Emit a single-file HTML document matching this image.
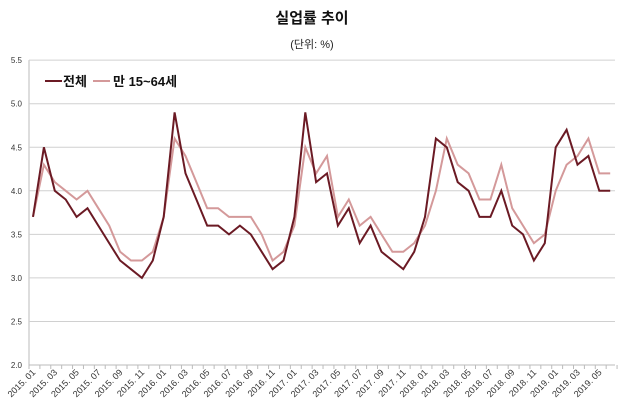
<!DOCTYPE html>
<html><head><meta charset="utf-8"><style>
body{margin:0;background:#fff;width:624px;height:417px;overflow:hidden}
svg{display:block;font-family:"Liberation Sans","Noto Sans CJK KR",sans-serif}
</style></head><body>
<svg id="c" width="624" height="417" xmlns="http://www.w3.org/2000/svg">
<text x="312" y="23" text-anchor="middle" font-size="15" font-weight="bold" fill="#111">실업률 추이</text>
<text x="312" y="48" text-anchor="middle" font-size="11" fill="#222">(단위: %)</text>
<line x1="45" y1="81" x2="62" y2="81" stroke="#6b1a24" stroke-width="2"/>
<text x="63" y="86" font-size="13" font-weight="bold" fill="#111">전체</text>
<line x1="93" y1="81" x2="110" y2="81" stroke="#d4999a" stroke-width="2"/>
<text x="113" y="86" font-size="13" font-weight="bold" fill="#111">만 15~64세</text>
</svg>
<script>
var s=document.getElementById('c'),NS='http://www.w3.org/2000/svg';
function el(t,a,txt){var e=document.createElementNS(NS,t);for(var k in a)e.setAttribute(k,a[k]);if(txt)e.textContent=txt;s.insertBefore(e,s.children[2]);return e;}
function Y(v){return 365-(v-2)*87.1;}
function X(i){return 33+i*10.89;}
for(var v=2.5;v<=5.51;v+=0.5){el('line',{x1:29,x2:615,y1:Y(v),y2:Y(v),stroke:'#d0d0d0','stroke-width':1});}
for(var v=2;v<=5.51;v+=0.5){el('text',{x:22,y:Y(v)+3,'text-anchor':'end','font-size':8,fill:'#333'},v.toFixed(1));}
el('line',{x1:29,x2:29,y1:Y(5.5),y2:365,stroke:'#bbb'});
el('line',{x1:29,x2:615,y1:365,y2:365,stroke:'#bbb'});
for(var i=0;i<=54;i++){var x=29+i*10.89;el('line',{x1:x,x2:x,y1:365,y2:369,stroke:'#bbb'});}
for(var i=0;i<54;i+=2){var y=2015+Math.floor(i/12),m=(i%12)+1;var x=X(i)+3,yy=373;
el('text',{x:x,y:yy,'text-anchor':'end','font-size':9,fill:'#333',transform:'rotate(-45 '+x+' '+yy+')'},y+'. '+(m<10?'0':'')+m);}
var a=[3.7,4.5,4.0,3.9,3.7,3.8,3.6,3.4,3.2,3.1,3.0,3.2,3.7,4.9,4.2,3.9,3.6,3.6,3.5,3.6,3.5,3.3,3.1,3.2,3.7,4.9,4.1,4.2,3.6,3.8,3.4,3.6,3.3,3.2,3.1,3.3,3.7,4.6,4.5,4.1,4.0,3.7,3.7,4.0,3.6,3.5,3.2,3.4,4.5,4.7,4.3,4.4,4.0,4.0];
var b=[3.7,4.3,4.1,4.0,3.9,4.0,3.8,3.6,3.3,3.2,3.2,3.3,3.7,4.6,4.4,4.1,3.8,3.8,3.7,3.7,3.7,3.5,3.2,3.3,3.6,4.5,4.2,4.4,3.7,3.9,3.6,3.7,3.5,3.3,3.3,3.4,3.6,4.0,4.6,4.3,4.2,3.9,3.9,4.3,3.8,3.6,3.4,3.5,4.0,4.3,4.4,4.6,4.2,4.2];
function P(d){return d.map(function(v,i){return X(i).toFixed(1)+','+Y(v).toFixed(1)}).join(' ');}
var p1=document.createElementNS(NS,'polyline');p1.setAttribute('points',P(b));p1.setAttribute('fill','none');p1.setAttribute('stroke','#d4999a');p1.setAttribute('stroke-width','2');s.appendChild(p1);
var p2=document.createElementNS(NS,'polyline');p2.setAttribute('points',P(a));p2.setAttribute('fill','none');p2.setAttribute('stroke','#6b1a24');p2.setAttribute('stroke-width','2');s.appendChild(p2);
</script>
</body></html>
